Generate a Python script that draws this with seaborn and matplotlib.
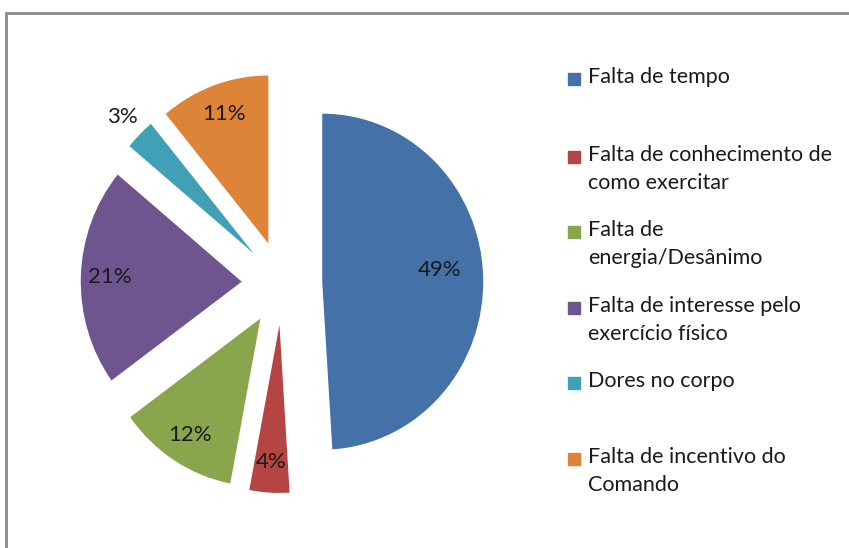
import matplotlib
matplotlib.use("Agg")
import matplotlib.pyplot as plt
import seaborn as sns
from matplotlib.patches import Rectangle
from matplotlib.lines import Line2D

# data
categories = [
    "Falta de tempo",
    "Falta de conhecimento de\ncomo exercitar",
    "Falta de\nenergia/Desânimo",
    "Falta de interesse pelo\nexercício físico",
    "Dores no corpo",
    "Falta de incentivo do\nComando",
]
values = [49, 4, 12, 21, 3, 11]
colors = ["#4471A7", "#B44542", "#8AA64C", "#6F5590", "#40A0B5", "#DD8439"]

sns.set_theme(style="white")
plt.rcParams["font.family"] = ["Lato", "DejaVu Sans"]

fig = plt.figure(figsize=(8.49, 5.48), dpi=100)

# pie axes: the original is slightly stretched (161 px/unit across, 168 px/unit down)
ax = fig.add_axes([40.5 / 849, (548 - 535) / 548, 483 / 849, 504 / 548])
wedges, texts, autotexts = ax.pie(
    values,
    colors=colors,
    startangle=90,
    counterclock=False,
    explode=[0.25] * len(values),
    autopct="%d%%",
    pctdistance=0.82,
    textprops={"fontsize": 16, "color": "#1a1a1a"},
    wedgeprops={"linewidth": 0},
)
# Excel's "best fit" label placement
autotexts[0].set_position((0.98, 0.08))
autotexts[4].set_position((-0.99, 0.99))
ax.set_xlim(-1.5, 1.5)
ax.set_ylim(-1.5, 1.5)
ax.set_aspect("auto")
ax.axis("off")

# legend, markers aligned to the first text line like the Excel original
leg_top = [79, 157, 232, 308, 383, 459]
for label, color, yc in zip(categories, colors, leg_top):
    fig.patches.append(Rectangle((568 / 849, 1 - (yc + 6) / 548), 12 / 849, 12 / 548,
                                 transform=fig.transFigure, color=color, figure=fig))
    fig.text(588 / 849, 1 - (yc - 12) / 548, label, fontsize=15.5, color="#1a1a1a",
             va="top", ha="left", linespacing=1.5)

# chart border (top and left visible)
fig.add_artist(Line2D([6 / 849, 1], [1 - 13 / 548, 1 - 13 / 548], transform=fig.transFigure,
                      color="#8a8a8a", linewidth=2))
fig.add_artist(Line2D([6 / 849, 6 / 849], [0, 1 - 13 / 548], transform=fig.transFigure,
                      color="#8a8a8a", linewidth=2))

fig.savefig("out.png", dpi=100)
